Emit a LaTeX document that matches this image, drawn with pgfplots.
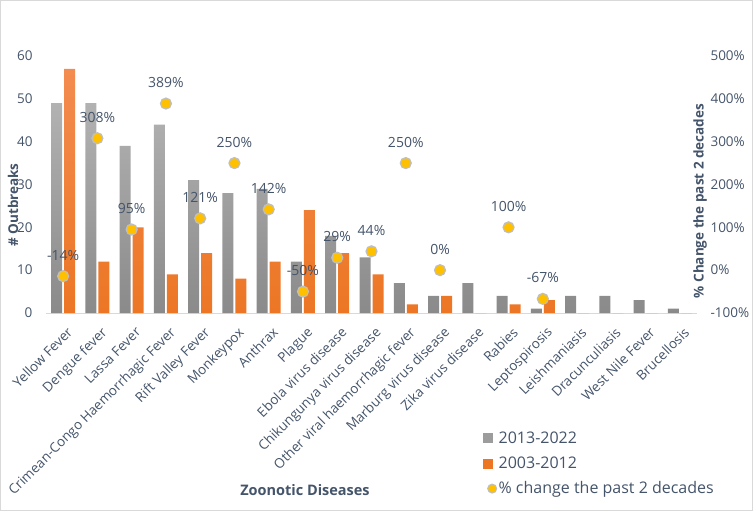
\documentclass[border=0pt]{standalone}
\usepackage{fontspec}
\setmainfont{Open Sans}
\usepackage{pgfplots}
\usepackage{pgfplotstable}
\pgfplotsset{compat=1.18}

\definecolor{txt}{RGB}{68,84,106}
\definecolor{grayTop}{RGB}{178,178,178}
\definecolor{grayBot}{RGB}{138,138,138}
\definecolor{orTop}{RGB}{243,140,80}
\definecolor{orBot}{RGB}{236,118,36}
\definecolor{dotY}{RGB}{255,192,0}
\definecolor{dotE}{RGB}{191,191,191}
\definecolor{axl}{RGB}{217,217,217}

% outbreaks per disease: new = 2013-2022, old = 2003-2012
\pgfplotstableread{
x new old
0 49 57
1 49 12
2 39 20
3 44 9
4 31 14
5 28 8
6 29 12
7 12 24
8 18 14
9 13 9
10 7 2
11 4 4
12 7 0
13 4 2
14 1 3
15 4 0
16 4 0
17 3 0
18 1 0
}\outbreaks

% percent change (only where 2003-2012 > 0)
\pgfplotstableread{
x pct
0 -14
1 308
2 95
3 389
4 121
5 250
6 142
7 -50
8 29
9 44
10 250
11 0
13 100
14 -67
}\change

\begin{document}
\begin{tikzpicture}
\pgfplotsset{
  base/.style={
    scale only axis, width=651pt, height=257pt,
    xmin=-0.5, xmax=18.5,
    major tick length=0pt,
    /pgf/number format/assume math mode=true,
    ticklabel style={font=\fontsize{13.5}{15}\selectfont, text=txt},
  },
}
\begin{axis}[base,
  ybar=2pt, bar width=11pt,
  ymin=0, ymax=60, ytick={0,10,...,60},
  axis x line*=bottom, axis y line*=left,
  y axis line style={draw=none},
  x axis line style={axl, line width=0.8pt, -},
  xtick={0,...,18},
  xticklabels={Yellow Fever, Dengue fever, Lassa Fever, Crimean-Congo Haemorrhagic Fever, Rift Valley Fever, Monkeypox, Anthrax, Plague, Ebola virus disease, Chikungunya virus disease, Other viral haemorrhagic fever, Marburg virus disease, Zika virus disease, Rabies, Leptospirosis, Leishmaniasis, Dracunculiasis, West Nile Fever, Brucellosis},
  x tick label style={anchor=north east, inner sep=0pt, xshift=3pt, yshift=-13pt, rotate=45},
  y tick label style={xshift=-10pt},
]
\addplot[draw=none, top color=grayTop, bottom color=grayBot] table[x=x,y=new]{\outbreaks};
\addplot[draw=none, top color=orTop, bottom color=orBot] table[x=x,y=old]{\outbreaks};
\end{axis}

\begin{axis}[base,
  ymin=-100, ymax=500, ytick={-100,0,...,500},
  axis y line*=right, axis x line=none,
  y axis line style={draw=none},
  yticklabel={\pgfmathprintnumber{\tick}\%},
  y tick label style={xshift=10pt},
  legend style={draw=none, fill=none, at={(0.667,-0.445)}, anchor=north west,
    font=\fontsize{16}{18}\selectfont, text=txt, row sep=8pt},
  legend cell align=left,
]
\addlegendimage{legend image code/.code={\fill[grayBot!85!white] (0pt,-4.5pt) rectangle (9pt,4.5pt);}}
\addlegendimage{legend image code/.code={\fill[orBot] (0pt,-4.5pt) rectangle (9pt,4.5pt);}}
\addlegendimage{only marks, mark=*, mark size=4.5pt, mark options={fill=dotY, draw=dotE, line width=1pt}}
\addplot[forget plot, only marks, mark=*, mark size=5.5pt,
  mark options={fill=dotY, draw=dotE, line width=1.2pt},
  point meta=y,
  nodes near coords={\pgfmathprintnumber{\pgfplotspointmeta}\%},
  every node near coord/.append style={anchor=south, font=\fontsize{14}{16}\selectfont, text=txt, yshift=12pt},
] table[x=x,y=pct]{\change};
\legend{2013-2022, 2003-2012, \% change the past 2 decades}
\end{axis}

\node[font=\bfseries\fontsize{14.5}{16}\selectfont, text=txt] at (259pt,-177pt) {Zoonotic Diseases};
\node[font=\bfseries\fontsize{13.5}{15}\selectfont, text=txt, rotate=90] at (-33pt,108pt) {\# Outbreaks};
\node[font=\bfseries\fontsize{13.5}{15}\selectfont, text=txt, rotate=90] at (654pt,112pt) {\% Change the past 2 decades};

\draw[axl] (-45.5pt,-197.5pt) rectangle (706.5pt,312.5pt);
\pgfresetboundingbox
\path (-46pt,-198pt) rectangle (707pt,313pt);
\end{tikzpicture}
\end{document}
